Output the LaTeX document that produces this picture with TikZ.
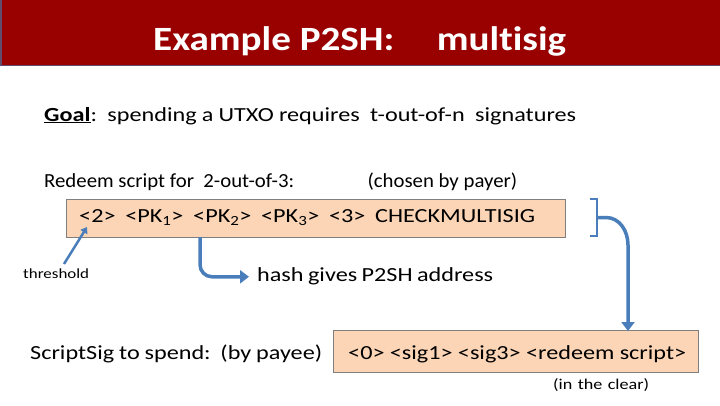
\documentclass[tikz,border=0pt]{standalone}
\usepackage{fontspec}
\setmainfont[FakeStretch=1.21, Ligatures=NoCommon]{Carlito}
\newfontfamily\narrowfont[FakeStretch=1.04, Ligatures=NoCommon]{Carlito}
\newfontfamily\titlefont[FakeStretch=1.15, Ligatures=NoCommon]{Carlito}
\usetikzlibrary{arrows.meta}
\definecolor{titlered}{RGB}{153,0,0}
\definecolor{titleedge}{RGB}{96,76,110}
\definecolor{peach}{RGB}{251,213,181}
\definecolor{boxedge}{RGB}{127,127,127}
\definecolor{arrowblue}{RGB}{74,126,187}
\newcommand{\fitw}[2]{\makebox[#1][s]{#2}}
\tikzset{
  txt/.style={inner sep=0pt, anchor=base west, font=\fontsize{20}{24}\selectfont},
  small/.style={inner sep=0pt, anchor=base west, font=\fontsize{15}{17}\selectfont},
  scriptbox/.style={draw=boxedge, line width=0.8pt, fill=peach, inner sep=0pt, anchor=north west},
  scripttext/.style={inner sep=0pt, anchor=base west, font=\fontsize{20}{24}\selectfont},
  bluearrow/.style={draw=arrowblue, line width=3.5pt, -{Triangle[length=9pt,width=13pt]}},
  bluethin/.style={draw=arrowblue, line width=2.5pt, -{Triangle[length=6pt,width=8pt]}},
}
\begin{document}
\begin{tikzpicture}[x=1pt,y=-1pt]
\useasboundingbox (0,0) rectangle (720,405);
% title bar
\fill[titlered] (0,0) rectangle (720,65);
\draw[titleedge, line width=1.5pt] (0.75,0) -- (0.75,65.25) -- (720,65.25);
\node[inner sep=0pt, anchor=base west, text=white, font=\titlefont\bfseries\fontsize{34}{36}\selectfont] (title) at (153,50) {\fitw{413pt}{Example P2SH:\hfill multisig}};
% goal
\node[txt] (goal) at (44,121) {\fitw{532pt}{\textbf{\underline{Goal}}:\ \ spending a UTXO requires\ \ t-out-of-n\ \ signatures}};
% redeem
\node[txt, font=\narrowfont\fontsize{20}{24}\selectfont] (redeem) at (44,187) {\fitw{473pt}{Redeem script for\ \ 2-out-of-3:\hfill(chosen by payer)}};
\node[scriptbox, minimum width=499pt, minimum height=38pt] (box1) at (66,199) {};
\node[scripttext] (box1text) at (79,222) {\fitw{456pt}{<2>\ \ <PK\textsubscript{1}>\ \ <PK\textsubscript{2}>\ \ <PK\textsubscript{3}>\ \ <3>\ \ CHECKMULTISIG}};
% threshold
\node[small, font=\fontsize{14}{16}\selectfont] (thr) at (23,278) {\fitw{67pt}{threshold}};
\coordinate (two) at (87,227);
\draw[bluethin] (64,264) -- (two);
% hash
\node[txt] (hash) at (257,281) {\fitw{236pt}{hash gives P2SH address}};
\coordinate (h0) at (200,237);
\draw[bluearrow, rounded corners=12pt] (h0) |- ([xshift=-8pt,yshift=-1pt]hash.west);
% bracket
\coordinate (bm) at (597,217.5);
\draw[arrowblue, line width=2.5pt] (590,199) -- (597,199) -- (597,236) -- (590,236);
% scriptsig
\node[txt] (ss) at (30,359) {\fitw{292pt}{ScriptSig to spend:\ \ (by payee)}};
\node[scriptbox, minimum width=365pt, minimum height=42pt] (box2) at (333,330) {};
\node[scripttext] (box2text) at (348,359) {\fitw{338pt}{<0> <sig1> <sig3> <redeem script>}};
\node[small] (clear) at (553,389) {\fitw{96pt}{(in the clear)}};
\draw[bluearrow] (bm) -- (606,217.5) to[out=0,in=90] (628,245) -- (628,331);
\end{tikzpicture}
\end{document}
